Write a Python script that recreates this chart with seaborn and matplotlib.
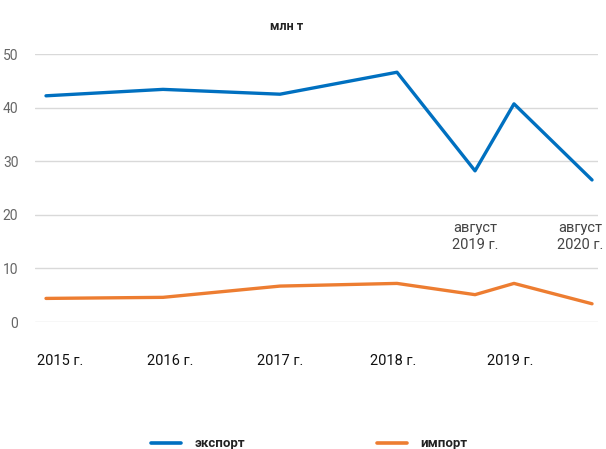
import matplotlib
matplotlib.use("Agg")
import matplotlib.pyplot as plt
import seaborn as sns
import pandas as pd
from matplotlib.lines import Line2D

# Data
periods = ["2015 г.", "2016 г.", "2017 г.", "2018 г.", "август 2019 г.", "2019 г.", "август 2020 г."]
period_pos = [0, 1, 2, 3, 3.667, 4, 4.667]
export_vals = [42.2, 43.4, 42.5, 46.6, 28.2, 40.7, 26.5]
import_vals = [4.4, 4.6, 6.7, 7.2, 5.1, 7.2, 3.4]
series_names = ["экспорт", "импорт"]
year_ticks = ["2015 г.", "2016 г.", "2017 г.", "2018 г.", "2019 г."]
year_tick_pos = [0.12, 1.06, 2.0, 2.97, 3.97]
colors = ["#0070C0", "#ED7D31"]

df = pd.DataFrame({
    "x": period_pos * 2,
    "value": export_vals + import_vals,
    "series": [series_names[0]] * len(period_pos) + [series_names[1]] * len(period_pos),
})

sns.set_style("white")
plt.rcParams["font.family"] = ["Roboto", "DejaVu Sans"]

fig = plt.figure(figsize=(6.06, 4.49), dpi=100)
ax = fig.add_axes([35 / 606, 1 - 322 / 449, (598 - 35) / 606, (322 - 54) / 449])

sns.lineplot(data=df, x="x", y="value", hue="series", palette=colors,
             linewidth=2.4, ax=ax, legend=False, sort=False)

ax.set_ylim(0, 50)
ax.set_xlim(-0.094, 4.718)
ax.set_yticks([0, 10, 20, 30, 40, 50])
ax.yaxis.grid(True, color="#d9d9d9", linewidth=1)
ax.set_axisbelow(True)
for s in ax.spines.values():
    s.set_visible(False)
ax.tick_params(axis="y", length=0, pad=12, labelsize=10, labelcolor="#666666")
ax.set_xticks(year_tick_pos)
ax.set_xticklabels(year_ticks)
ax.tick_params(axis="x", length=0, pad=23, labelsize=10.5, labelcolor="#111111")
ax.set_xlabel("")
ax.set_ylabel("")
for ln in ax.lines:
    ln.set_clip_on(False)

# annotations for August points
ax.text(period_pos[4], 18.8, "август\n2019 г.", ha="center", va="top",
        fontsize=10.5, color="#444444", linespacing=1.25)
ax.text(period_pos[6] - 0.1, 18.8, "август\n2020 г.", ha="center", va="top",
        fontsize=10.5, color="#444444", linespacing=1.25)

fig.text(287 / 606, 1 - 26 / 449, "млн т", ha="center", va="center",
         fontsize=9, fontweight="bold", color="#222222")

# legend
handles = [Line2D([0], [0], color=c, linewidth=2.6) for c in colors]
leg = fig.legend(handles, series_names, loc="center", bbox_to_anchor=(0.51, 1 - 444 / 449),
                 ncol=2, frameon=False, fontsize=9.5, columnspacing=10, handlelength=2.3,
                 handletextpad=1.0)
for t in leg.get_texts():
    t.set_fontweight("bold")
    t.set_color("#222222")

fig.savefig("out.png", dpi=100)
